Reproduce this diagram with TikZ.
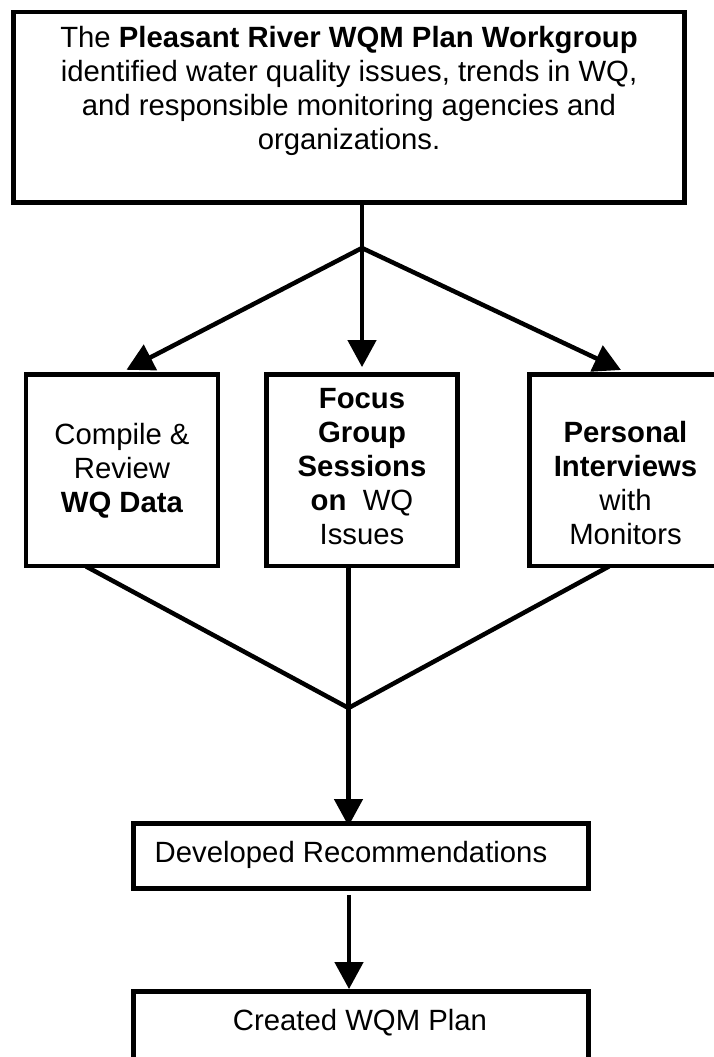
\documentclass[tikz,border=0pt]{standalone}
\usepackage{fontspec}
\setmainfont{Liberation Sans}
\usetikzlibrary{arrows.meta,calc}
\begin{document}
\begin{tikzpicture}[x=1pt,y=-1pt,
  box/.style={draw=black, line width=4.8pt, inner sep=0pt, fill=none},
  txt/.style={inner sep=0pt, align=center, text=black,
    font=\fontsize{29.3}{34}\selectfont, execute at begin node=\strut},
  conn/.style={draw=black, line width=4.5pt},
  arr/.style={conn, -{Triangle[length=27pt,width=28pt]}}
]
\fill[white] (0,0) rectangle (713,1057);
\useasboundingbox (0,0) rectangle (713,1057);

% boxes
\node[box, minimum width=671pt, minimum height=190.5pt] (top) at (349,107.25) {};
\node[txt, anchor=north] (toptxt) at (349,26.2)
  {The \textbf{Pleasant River WQM Plan Workgroup}\\identified water quality issues, trends in WQ,\\and responsible monitoring agencies and\\organizations.};

\node[box, minimum width=192pt, minimum height=191.5pt] (left) at (122,470.25) {};
\node[txt, anchor=north] (lefttxt) at (122,423.2) {Compile \&\\Review\\\textbf{WQ Data}};

\node[box, minimum width=191pt, minimum height=191.5pt] (mid) at (362,470.25) {};
\node[txt, anchor=north] (midtxt) at (362,388.2)
  {\textbf{Focus}\\\textbf{Group}\\\textbf{Sessions}\\\textbf{on}\ \ WQ\\Issues};

\node[box, minimum width=192pt, minimum height=191.5pt] (right) at (625.5,470.25) {};
\node[txt, anchor=north] (righttxt) at (625.5,421.2)
  {\textbf{Personal}\\\textbf{Interviews}\\with\\Monitors};

\node[box, minimum width=455pt, minimum height=65pt] (dev) at (361,856) {};
\node[txt, anchor=north] (devtxt) at (351,838.2) {Developed Recommendations};

\node[box, minimum width=455pt, minimum height=100pt] (plan) at (361,1041.5) {};
\node[txt, anchor=north] (plantxt) at (360,1006.2) {Created WQM Plan};

% junctions
\coordinate (j1) at (362,248);
\coordinate (j2) at (348.5,708);

% split
\draw[conn] (j1 |- top.south) -- (j1);
\draw[arr, line cap=round, shorten >=5pt] (j1) -- (left.north);
\draw[arr, line cap=round, shorten >=5pt] (j1) -- (mid.north);
\draw[arr, line cap=round, shorten >=5pt] (j1) -- (right.north);

% merge
\draw[conn, line join=miter] ([xshift=-36pt,yshift=2pt]left.south) -- (j2) -- ([xshift=-16.5pt,yshift=2pt]right.south);
\draw[arr, shorten >=-5pt] ([xshift=-13.5pt]mid.south) -- (j2) -- (j2 |- dev.north);

% final step
\draw[arr, shorten <=4pt] ([xshift=-12pt]dev.south) -- ([xshift=-12pt]plan.north);
\end{tikzpicture}
\end{document}
